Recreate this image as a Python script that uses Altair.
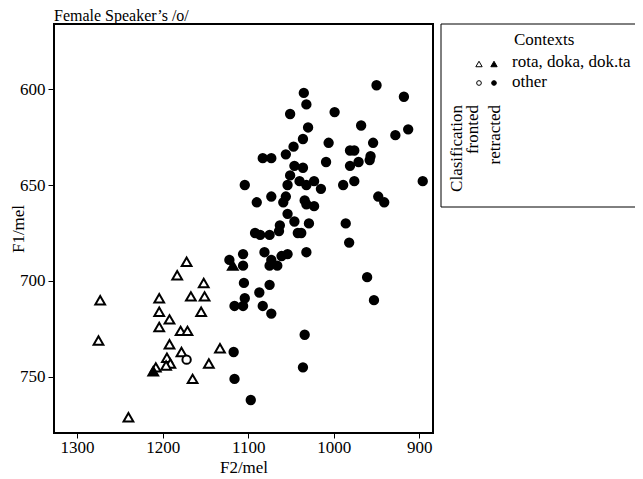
import altair as alt
import pandas as pd

FONT = "Liberation Serif"

title_text = "Female Speaker\u2019s /o/"
contexts = ["rota, doka, dok.ta", "other"]
classes = ["fronted", "retracted"]
legend_title = "Contexts"
class_title = "Clasification"

# rota/doka/dok.ta context, fronted (hollow triangles)
tri_fronted_f2 = [1172, 1183, 1152, 1273, 1204, 1167, 1151, 1204, 1155, 1192, 1204, 1179,
                  1171, 1275, 1192, 1178, 1133, 1195, 1191, 1196, 1146, 1208, 1165, 1240]
tri_fronted_f1 = [690, 697, 701, 710, 709, 708, 708, 716, 716, 720, 724, 726,
                  726, 731, 733, 737, 735, 740, 743, 744, 743, 745, 751, 771]
# rota/doka/dok.ta context, retracted (filled triangles)
tri_retracted_f2 = [1211, 1118]
tri_retracted_f1 = [747, 692]
# other context, fronted (hollow circle)
circ_fronted_f2 = [1172]
circ_fronted_f1 = [741]
# other context, retracted (filled circles)
circ_retracted_f2 = [950, 1035, 918, 1032, 1051, 999, 968, 1030, 913, 928,
                     1036, 1006, 954, 1047, 1056, 1083, 1073, 981, 976, 957,
                     958, 1009, 981, 971, 1046, 1036, 1051, 896, 1040, 1032,
                     1023, 976, 989, 1015, 1054, 1104, 1073, 1056, 1059, 1090,
                     1034, 1032, 1023, 948, 941, 1054, 1046, 1063, 1064, 1029,
                     986, 1092, 1086, 1075, 1042, 1038, 982, 1106, 1081, 1061,
                     1054, 1032, 1122, 1106, 1073, 1075, 1066, 1105, 1075, 1087,
                     1104, 1116, 1106, 1083, 1073, 961, 953, 1034, 1117, 1036,
                     1116, 1097]
circ_retracted_f1 = [598, 602, 604, 608, 613, 612, 619, 620, 621, 624,
                     626, 628, 628, 630, 634, 636, 636, 632, 632, 635,
                     637, 638, 640, 638, 640, 641, 645, 648, 648, 650,
                     648, 648, 650, 652, 650, 650, 656, 656, 659, 659,
                     658, 660, 661, 656, 659, 665, 669, 671, 674, 670,
                     670, 675, 676, 676, 675, 675, 680, 686, 685, 687,
                     686, 685, 689, 692, 689, 692, 692, 701, 702, 706,
                     709, 713, 713, 713, 717, 698, 710, 728, 737, 745,
                     751, 762]

x_ticks = [900, 1000, 1100, 1200, 1300]
y_ticks = [600, 650, 700, 750]

groups = [
    (tri_fronted_f2, tri_fronted_f1, contexts[0], classes[0]),
    (tri_retracted_f2, tri_retracted_f1, contexts[0], classes[1]),
    (circ_fronted_f2, circ_fronted_f1, contexts[1], classes[0]),
    (circ_retracted_f2, circ_retracted_f1, contexts[1], classes[1]),
]
rows = []
for f2s, f1s, ctx, cls in groups:
    for a, b in zip(f2s, f1s):
        rows.append({"F2": a, "F1": b, "Context": ctx, "Class": cls})
df = pd.DataFrame(rows)

W, H = 379, 409

points = alt.Chart(df).mark_point(filled=True, stroke="black", strokeWidth=2,
                                  opacity=1).encode(
    x=alt.X("F2:Q",
            scale=alt.Scale(domain=[884, 1327], reverse=True, nice=False, zero=False),
            axis=alt.Axis(values=x_ticks, title="F2/mel", format="d",
                          labelPadding=1, tickSize=5,
                          titleX=W / 2, titleY=34, titleBaseline="middle")),
    y=alt.Y("F1:Q",
            scale=alt.Scale(domain=[566.1, 779.2], reverse=True, nice=False, zero=False),
            axis=alt.Axis(values=y_ticks, title="F1/mel", format="d",
                          labelPadding=3, tickSize=6,
                          titleX=-36, titleY=H / 2, titleBaseline="middle",
                          titleAlign="center", titleAngle=270)),
    shape=alt.Shape("Context:N", scale=alt.Scale(domain=contexts,
                                                 range=["triangle-up", "circle"]),
                    legend=None),
    size=alt.Size("Context:N", scale=alt.Scale(domain=contexts, range=[95, 70]),
                  legend=None),
    fill=alt.Fill("Class:N", scale=alt.Scale(domain=classes, range=["white", "black"]),
                  legend=None),
)

# custom legend (positions in pixels relative to the plot area)
one = pd.DataFrame({"k": [0]})
box = alt.Chart(one).mark_rect(fillOpacity=0, stroke="black", strokeWidth=1).encode(
    x=alt.value(387), x2=alt.value(585), y=alt.value(0), y2=alt.value(183))


def txt(label, x, y, angle=0, align="left"):
    return alt.Chart(pd.DataFrame({"label": [label]})).mark_text(
        font=FONT, fontSize=17, color="black", align=align, baseline="middle",
        angle=angle).encode(text="label:N", x=alt.value(x), y=alt.value(y))


def sym(shape, fill, x, y, size):
    return alt.Chart(one).mark_point(filled=True, stroke="black", strokeWidth=1,
                                     size=size, opacity=1).encode(
        x=alt.value(x), y=alt.value(y), shape=alt.value(shape), fill=alt.value(fill))


legend_layers = [
    box,
    txt(legend_title, 460, 16),
    txt(contexts[0], 458, 38),
    txt(contexts[1], 458, 58),
    sym("triangle-up", "white", 425, 40, 40),
    sym("triangle-up", "black", 440, 40, 40),
    sym("circle", "white", 425, 59, 22),
    sym("circle", "black", 440, 59, 22),
    txt(class_title, 403, 81, angle=270, align="right"),
    txt(classes[0], 419, 81, angle=270, align="right"),
    txt(classes[1], 441, 81, angle=270, align="right"),
]

chart = alt.layer(points, *legend_layers).properties(
    width=W, height=H,
    title=alt.TitleParams(title_text, anchor="start", frame="group", font=FONT,
                          fontSize=16, fontWeight="normal", color="black", offset=0),
    autosize=alt.AutoSizeParams(type="none"),
    padding={"left": 46, "top": 16, "right": 202, "bottom": 46},
).configure_view(stroke="black", strokeWidth=2).configure_axis(
    grid=False, domain=False, labelFont=FONT, titleFont=FONT, labelFontSize=17,
    titleFontSize=17, titleFontWeight="normal", labelColor="black", titleColor="black",
    tickColor="black", tickWidth=1,
)

chart.save("out.html", embed_options={"renderer": "svg", "actions": False})
